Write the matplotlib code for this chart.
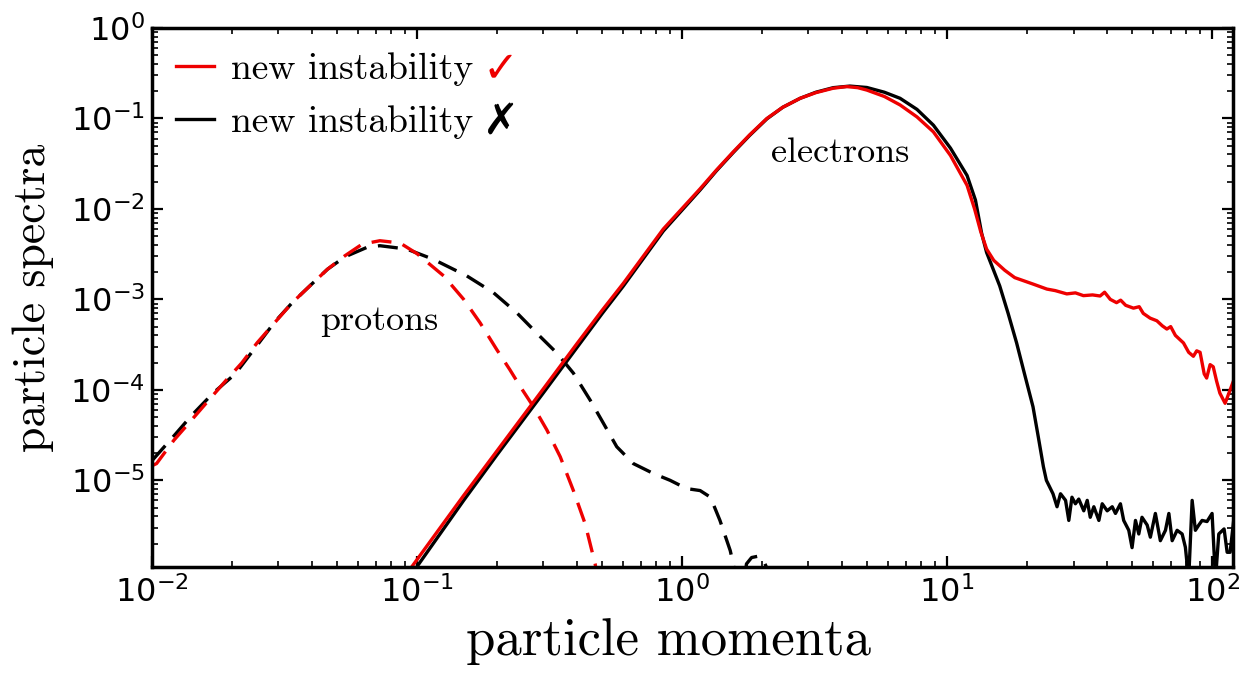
import matplotlib
matplotlib.use("Agg")
import matplotlib.pyplot as plt

# proton spectra (dashed)
p_red_x = [0.0100, 0.0104, 0.0121, 0.0141, 0.0164, 0.0191, 0.0218, 0.0249, 0.0290, 0.0338, 0.0394,
           0.0459, 0.0534, 0.0621, 0.0724, 0.0863, 0.100, 0.126, 0.150, 0.173, 0.200, 0.224,
           0.245, 0.275, 0.309, 0.347, 0.389, 0.431, 0.470, 0.480]
p_red_y = [1.45e-5, 1.53e-5, 2.78e-5, 4.64e-5, 7.74e-5, 1.29e-4, 1.98e-4, 3.30e-4, 5.51e-4, 9.18e-4, 1.41e-3,
           2.15e-3, 3.03e-3, 4.08e-3, 4.45e-3, 4.2e-3, 3.2e-3, 1.82e-3, 1.0e-3, 5.5e-4, 2.78e-4, 1.67e-4,
           1.09e-4, 6.5e-5, 3.6e-5, 1.82e-5, 7.7e-6, 3.3e-6, 1.19e-6, 8e-7]

p_blk_x = [0.0100, 0.0121, 0.0141, 0.0170, 0.0206, 0.0249, 0.0290, 0.0338, 0.0394, 0.0459, 0.0534,
           0.0646, 0.0724, 0.0914, 0.115, 0.154, 0.194, 0.238, 0.291, 0.337, 0.389, 0.450,
           0.505, 0.567, 0.655, 0.779, 0.901, 1.04, 1.17, 1.28, 1.39, 1.52, 1.56, 1.60,
           1.72, 1.75, 1.83, 1.94, 2.03, 2.08, 2.12]
p_blk_y = [1.65e-5, 3.10e-5, 5.2e-5, 9.2e-5, 1.50e-4, 3.1e-4, 5.6e-4, 9.18e-4, 1.41e-3, 2.15e-3, 2.95e-3,
           3.75e-3, 3.92e-3, 3.6e-3, 2.78e-3, 1.82e-3, 1.19e-3, 7.1e-4, 3.9e-4, 2.55e-4, 1.53e-4, 7.7e-5,
           4.27e-5, 2.35e-5, 1.53e-5, 1.19e-5, 1.0e-5, 8.1e-6, 7.7e-6, 6.5e-6, 3.6e-6, 1.67e-6, 1.19e-6, 8e-7,
           8e-7, 1.19e-6, 1.4e-6, 1.45e-6, 1.3e-6, 1.1e-6, 8e-7]

# electron spectra (solid)
e_red_x = [0.092, 0.15, 0.2, 0.3, 0.4, 0.5, 0.6, 0.85, 1.17, 1.35, 1.56, 1.8, 2.09, 2.4, 2.79, 3.2,
           3.72, 4.18, 4.6, 4.98, 5.8, 6.65, 7.7, 8.88, 10.3, 11.9, 12.7, 13.4, 14.1, 15.0, 16.5,
           18.0, 21.2, 23.8, 25.6, 28.3, 30.5, 32.7, 35.4, 37.8, 39.3, 41.3, 43.6, 45.2, 47.2,
           50.5, 53.1, 55.0, 58.4, 61.9, 64.9, 67.5, 69.8, 72.7, 78.0, 81.6, 85.0, 87.5, 90.1,
           93.4, 95.4, 98.3, 101.0, 104.0, 107.0, 112.0, 117.0, 121.0]
e_red_y = [9.5e-7, 6.8e-6, 2.1e-5, 1.03e-4, 3.2e-4, 7.6e-4, 1.5e-3, 6.0e-3, 1.67e-2, 2.7e-2, 4.27e-2,
           6.6e-2, 0.1, 0.133, 0.167, 0.193, 0.216, 0.225, 0.219, 0.206, 0.175, 0.141, 0.104, 0.0711,
           0.039, 0.0182, 1.0e-2, 5.6e-3, 3.6e-3, 2.7e-3, 2.1e-3, 1.74e-3, 1.47e-3, 1.3e-3, 1.25e-3,
           1.15e-3, 1.18e-3, 1.1e-3, 1.12e-3, 1.09e-3, 1.2e-3, 1.0e-3, 9.2e-4, 9.8e-4, 8.6e-4, 8.0e-4,
           8.3e-4, 7.0e-4, 6.2e-4, 5.8e-4, 5.1e-4, 4.7e-4, 5.0e-4, 4.0e-4, 3.3e-4, 2.6e-4, 2.35e-4,
           2.7e-4, 2.6e-4, 1.5e-4, 1.35e-4, 1.9e-4, 1.8e-4, 1.25e-4, 9.2e-5, 7.1e-5, 1.0e-4, 1.3e-4]

e_blk_x = [0.095, 0.15, 0.2, 0.3, 0.4, 0.5, 0.6, 0.85, 1.17, 1.35, 1.56, 1.8, 2.09, 2.4, 2.79, 3.2,
           3.72, 4.3, 4.98, 5.8, 6.65, 7.7, 8.88, 10.3, 11.9, 12.8, 13.5, 14.1, 14.8, 15.8, 17.0,
           18.3, 19.6, 21.1, 22.1, 23.1, 23.7, 25.1, 26.0, 26.8, 28.0, 28.8, 29.6, 30.5, 31.4,
           32.8, 33.8, 34.7, 35.8, 37.4, 38.5, 40.2, 42.0, 43.2, 45.1, 46.4, 48.5, 49.9, 51.4,
           52.9, 54.4, 56.9, 58.5, 61.1, 63.8, 66.7, 68.7, 70.7, 73.8, 77.1, 79.3, 81.6, 84.1,
           86.5, 89.1, 91.7, 95.7, 100.0, 103.0, 106.0, 111.0, 114.0, 117.0, 121.0]
e_blk_y = [9e-7, 6.0e-6, 1.9e-5, 9.3e-5, 2.9e-4, 7.0e-4, 1.4e-3, 5.7e-3, 1.62e-2, 2.65e-2, 4.2e-2,
           6.5e-2, 0.099, 0.133, 0.167, 0.195, 0.219, 0.228, 0.22, 0.195, 0.167, 0.126, 0.0843, 0.047,
           0.0234, 0.0125, 5.4e-3, 3.3e-3, 2.3e-3, 1.41e-3, 7.0e-4, 3.3e-4, 1.5e-4, 6.5e-5, 3.0e-5,
           1.41e-5, 1.0e-5, 7.1e-6, 5.1e-6, 7.1e-6, 6.0e-6, 3.6e-6, 6.5e-6, 5.5e-6, 6.2e-6, 4.6e-6,
           6.0e-6, 3.9e-6, 5.1e-6, 3.6e-6, 5.5e-6, 4.6e-6, 5.1e-6, 4.3e-6, 5.5e-6, 3.6e-6, 2.8e-6,
           1.8e-6, 3.6e-6, 2.55e-6, 3.9e-6, 3.2e-6, 2.35e-6, 4.3e-6, 2.15e-6, 2.8e-6, 4.3e-6, 2.15e-6,
           2.8e-6, 2.55e-6, 1.82e-6, 8e-7, 6.0e-6, 2.8e-6, 3.2e-6, 3.6e-6, 3.5e-6, 4.3e-6, 8e-7,
           2.55e-6, 2.9e-6, 1.6e-6, 1.6e-6, 3.9e-6]

x_major = [1e-2, 1e-1, 1e0, 1e1, 1e2]
y_major = [1e-5, 1e-4, 1e-3, 1e-2, 1e-1, 1e0]

labels = ["new instability", "new instability"]
marks = ["\u2713", "\u2717"]
colors = ["#ee0000", "black"]

serif = "cmr10"

fig = plt.figure(figsize=(12.4, 6.78), dpi=100)
ax = fig.add_axes([0.1226, 0.1637, 0.8718, 0.795])

lw = 2.4
dash = (6, 3.5)
ax.plot(p_blk_x, p_blk_y, color=colors[1], lw=lw, dashes=dash)
ax.plot(p_red_x, p_red_y, color=colors[0], lw=lw, dashes=dash)
l_blk, = ax.plot(e_blk_x, e_blk_y, color=colors[1], lw=lw)
l_red, = ax.plot(e_red_x, e_red_y, color=colors[0], lw=lw)

ax.set_xscale("log")
ax.set_yscale("log")
ax.set_xticks(x_major)
ax.set_yticks(y_major)
ax.set_xlim(0.01, 120)
ax.set_ylim(1.1e-6, 1)

for s in ax.spines.values():
    s.set_linewidth(2.5)
ax.tick_params(which="both", direction="in", top=True, right=True, labelsize=23)
ax.tick_params(which="major", length=8, width=1.6)
ax.tick_params(which="minor", length=4, width=1.2)
ax.tick_params(axis="x", which="major", pad=7)
ax.tick_params(axis="y", which="major", pad=5)

ax.set_xlabel("particle momenta", family=serif, fontsize=38, labelpad=6)
ax.xaxis.label.set_x(0.478)
ax.set_ylabel("particle spectra", family=serif, fontsize=33, labelpad=12)

ax.text(3.95, 0.041, "electrons", family=serif, fontsize=26, ha="center", va="center")
ax.text(0.072, 5.7e-4, "protons", family=serif, fontsize=26, ha="center", va="center")

leg = ax.legend([l_red, l_blk], labels, loc="upper left", frameon=False,
                prop={"family": serif, "size": 27}, handlelength=1.0, handletextpad=0.45,
                labelspacing=0.5, borderaxespad=0.25)

# coloured check / cross after each legend entry
fig.canvas.draw()
inv = fig.transFigure.inverted()
for t, m, c in zip(leg.get_texts(), marks, colors):
    bb = t.get_window_extent()
    fx, fy = inv.transform((bb.x1 + 10, (bb.y0 + bb.y1) / 2))
    fig.text(fx, fy, m, color=c, fontsize=31, fontweight="bold", ha="left", va="center",
             family="DejaVu Sans")

fig.savefig("out.png", dpi=100)
plt.close()
